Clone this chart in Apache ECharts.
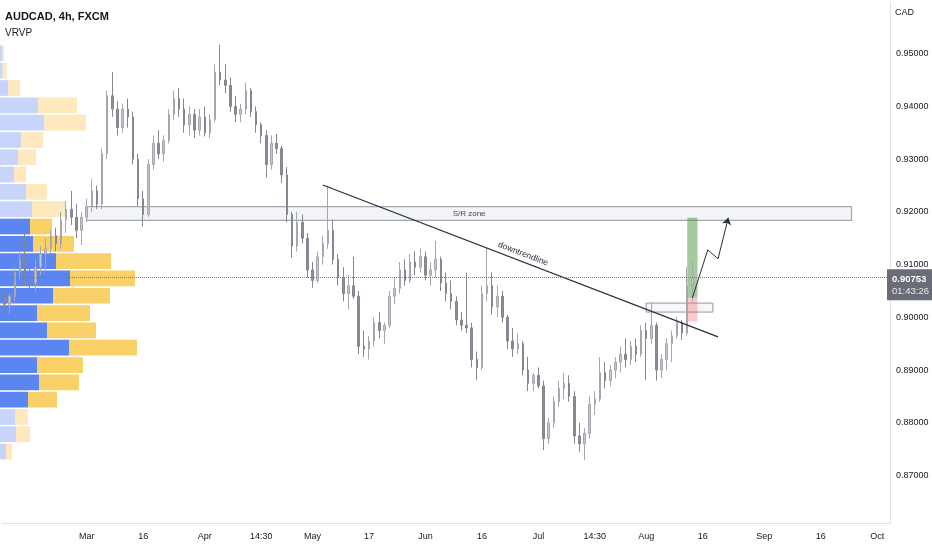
<!DOCTYPE html>
<html lang="en">
<head>
    <meta charset="UTF-8">
    <title>AUDCAD, 4h, FXCM</title>
    <script src="https://cdn.jsdelivr.net/npm/echarts@6/dist/echarts.min.js"></script>
    <style>
        html, body { margin: 0; padding: 0; background: #fff; }
        #chart { width: 932px; height: 550px; }
    </style>
</head>
<body>
    <div id="chart"></div>

    <script>
        // trading days (weekdays) from 7 Feb 2022, the right part of the axis is empty future
        const firstDay = Date.UTC(2022, 1, 7);
        const dayCount = 173;
        const dates = [];
        for (let t = firstDay; dates.length < dayCount; t += 86400000) {
            const d = new Date(t);
            if (d.getUTCDay() % 6 !== 0) dates.push(d.toISOString().slice(0, 10));
        }

        // bottom axis labels
        const tickDates  = ['2022-03-01', '2022-03-16', '2022-04-01', '2022-04-18', '2022-05-02', '2022-05-17', '2022-06-01', '2022-06-16',
                            '2022-07-01', '2022-07-18', '2022-08-01', '2022-08-16', '2022-09-01', '2022-09-16', '2022-10-03'];
        const tickLabels = ['Mar', '16', 'Apr', '14:30', 'May', '17', 'Jun', '16',
                            'Jul', '14:30', 'Aug', '16', 'Sep', '16', 'Oct'];

        // daily candles: [open, high, low, close]
        const ohlc = [
            [0.9030, 0.9050, 0.9010, 0.9025], [0.9025, 0.9045, 0.9005, 0.9040], [0.9040, 0.9095, 0.9030, 0.9085], [0.9085, 0.9125, 0.9070, 0.9110],
            [0.9110, 0.9160, 0.9060, 0.9070], [0.9070, 0.9100, 0.9055, 0.9065], [0.9065, 0.9110, 0.9050, 0.9095], [0.9095, 0.9135, 0.9080, 0.9120],
            [0.9120, 0.9150, 0.9090, 0.9130], [0.9130, 0.9165, 0.9120, 0.9155], [0.9155, 0.9170, 0.9125, 0.9140], [0.9140, 0.9200, 0.9130, 0.9185],
            [0.9185, 0.9220, 0.9160, 0.9205], [0.9205, 0.9240, 0.9175, 0.9190], [0.9190, 0.9215, 0.9150, 0.9165], [0.9165, 0.9200, 0.9137, 0.9190],
            [0.9190, 0.9225, 0.9180, 0.9210], [0.9210, 0.9262, 0.9200, 0.9240], [0.9240, 0.9250, 0.9205, 0.9215], [0.9215, 0.9320, 0.9205, 0.9310],
            [0.9310, 0.9430, 0.9300, 0.9420], [0.9420, 0.9465, 0.9380, 0.9395], [0.9395, 0.9410, 0.9345, 0.9360], [0.9360, 0.9405, 0.9350, 0.9395],
            [0.9395, 0.9415, 0.9360, 0.9380], [0.9380, 0.9390, 0.9290, 0.9300], [0.9300, 0.9310, 0.9210, 0.9225], [0.9225, 0.9240, 0.9172, 0.9195],
            [0.9195, 0.9300, 0.9190, 0.9290], [0.9290, 0.9345, 0.9280, 0.9330], [0.9330, 0.9355, 0.9300, 0.9310], [0.9310, 0.9345, 0.9295, 0.9335],
            [0.9335, 0.9395, 0.9330, 0.9385], [0.9385, 0.9430, 0.9375, 0.9415], [0.9415, 0.9435, 0.9380, 0.9395], [0.9395, 0.9415, 0.9350, 0.9365],
            [0.9365, 0.9400, 0.9345, 0.9385], [0.9385, 0.9395, 0.9340, 0.9355], [0.9355, 0.9395, 0.9345, 0.9380], [0.9380, 0.9400, 0.9343, 0.9350],
            [0.9350, 0.9385, 0.9340, 0.9375], [0.9375, 0.9480, 0.9370, 0.9465], [0.9465, 0.9517, 0.9440, 0.9450], [0.9450, 0.9480, 0.9425, 0.9440],
            [0.9440, 0.9455, 0.9390, 0.9400], [0.9400, 0.9420, 0.9370, 0.9385], [0.9385, 0.9405, 0.9370, 0.9395], [0.9395, 0.9445, 0.9385, 0.9430],
            [0.9430, 0.9435, 0.9380, 0.9390], [0.9390, 0.9400, 0.9350, 0.9365], [0.9365, 0.9370, 0.9330, 0.9345], [0.9345, 0.9355, 0.9265, 0.9290],
            [0.9290, 0.9345, 0.9280, 0.9330], [0.9330, 0.9348, 0.9310, 0.9320], [0.9320, 0.9325, 0.9255, 0.9270], [0.9270, 0.9285, 0.9180, 0.9195],
            [0.9195, 0.9200, 0.9113, 0.9135], [0.9135, 0.9200, 0.9125, 0.9180], [0.9180, 0.9195, 0.9140, 0.9150], [0.9150, 0.9160, 0.9075, 0.9090],
            [0.9090, 0.9105, 0.9056, 0.9070], [0.9070, 0.9125, 0.9065, 0.9115], [0.9115, 0.9155, 0.9100, 0.9140], [0.9140, 0.9250, 0.9130, 0.9165],
            [0.9165, 0.9185, 0.9100, 0.9110], [0.9110, 0.9120, 0.9060, 0.9075], [0.9075, 0.9095, 0.9030, 0.9045], [0.9045, 0.9080, 0.9015, 0.9060],
            [0.9060, 0.9115, 0.9035, 0.9040], [0.9040, 0.9050, 0.8930, 0.8945], [0.8945, 0.8975, 0.8925, 0.8940], [0.8940, 0.8965, 0.8920, 0.8955],
            [0.8955, 0.9000, 0.8945, 0.8990], [0.8990, 0.9010, 0.8960, 0.8975], [0.8975, 0.8990, 0.8950, 0.8985], [0.8985, 0.9050, 0.8980, 0.9040],
            [0.9040, 0.9075, 0.9025, 0.9055], [0.9055, 0.9105, 0.9045, 0.9090], [0.9090, 0.9110, 0.9060, 0.9070], [0.9070, 0.9120, 0.9065, 0.9105],
            [0.9105, 0.9125, 0.9080, 0.9095], [0.9095, 0.9130, 0.9085, 0.9115], [0.9115, 0.9125, 0.9070, 0.9080], [0.9080, 0.9105, 0.9060, 0.9090],
            [0.9090, 0.9145, 0.9075, 0.9110], [0.9110, 0.9115, 0.9050, 0.9065], [0.9065, 0.9085, 0.9030, 0.9045], [0.9045, 0.9070, 0.9015, 0.9030],
            [0.9030, 0.9040, 0.8985, 0.8995], [0.8995, 0.9010, 0.8975, 0.8985], [0.8985, 0.9085, 0.8970, 0.8980], [0.8980, 0.8990, 0.8905, 0.8920],
            [0.8920, 0.8935, 0.8881, 0.8905], [0.8905, 0.9060, 0.8900, 0.9045], [0.9045, 0.9132, 0.9030, 0.9060], [0.9060, 0.9085, 0.9005, 0.9020],
            [0.9020, 0.9060, 0.9000, 0.9040], [0.9040, 0.9050, 0.8990, 0.9000], [0.9000, 0.9005, 0.8940, 0.8955], [0.8955, 0.8980, 0.8925, 0.8940],
            [0.8940, 0.8970, 0.8930, 0.8950], [0.8950, 0.8955, 0.8890, 0.8900], [0.8900, 0.8925, 0.8860, 0.8875], [0.8875, 0.8895, 0.8860, 0.8890],
            [0.8890, 0.8905, 0.8865, 0.8870], [0.8870, 0.8880, 0.8748, 0.8770], [0.8770, 0.8810, 0.8760, 0.8800], [0.8800, 0.8850, 0.8790, 0.8840],
            [0.8840, 0.8880, 0.8830, 0.8865], [0.8865, 0.8895, 0.8845, 0.8875], [0.8875, 0.8890, 0.8840, 0.8850], [0.8850, 0.8860, 0.8760, 0.8775],
            [0.8775, 0.8800, 0.8745, 0.8760], [0.8760, 0.8790, 0.8729, 0.8780], [0.8780, 0.8850, 0.8770, 0.8835], [0.8835, 0.8860, 0.8815, 0.8845],
            [0.8845, 0.8925, 0.8840, 0.8895], [0.8895, 0.8915, 0.8865, 0.8880], [0.8880, 0.8910, 0.8870, 0.8900], [0.8900, 0.8925, 0.8885, 0.8915],
            [0.8915, 0.8945, 0.8895, 0.8930], [0.8930, 0.8960, 0.8905, 0.8920], [0.8920, 0.8955, 0.8910, 0.8945], [0.8945, 0.8960, 0.8915, 0.8930],
            [0.8930, 0.8985, 0.8925, 0.8975], [0.8975, 0.8990, 0.8881, 0.8960], [0.8960, 0.9029, 0.8950, 0.8985], [0.8985, 0.8990, 0.8880, 0.8900],
            [0.8900, 0.8930, 0.8885, 0.8920], [0.8920, 0.8960, 0.8900, 0.8950], [0.8950, 0.8975, 0.8915, 0.8965], [0.8965, 0.9000, 0.8960, 0.8990],
            [0.8990, 0.8995, 0.8957, 0.8970], [0.8970, 0.9095, 0.8965, 0.9060], [0.9060, 0.9105, 0.9030, 0.9075]
        ];
        const lastPrice = 0.90753;
        const countdown = '01:43:26';

        // visible range volume profile, rows from top (high) to bottom (low)
        const vpUp   = [2.7, 2.7, 8.3, 38, 44, 21, 18, 14, 26, 32, 30, 33, 56, 70, 53, 37, 47, 69, 37, 39, 28, 15, 16, 6];
        const vpDown = [1.3, 4, 11.7, 39, 42, 22, 18, 12, 21, 34, 22, 41, 55, 65, 57, 53, 49, 68, 46, 40, 29, 13, 14, 6];
        const vaFirst = 10, vaLast = 20;

        // drawings
        const srZone    = [['2022-03-01', 0.9210], ['2022-09-26', 0.9184]];
        const trendLine = [['2022-05-04', 0.9251], ['2022-08-19', 0.8963]];
        const smallBox  = [['2022-08-01', 0.9027], ['2022-08-18', 0.9010]];
        const profitBox = [['2022-08-11', 0.9189], ['2022-08-15', 0.9037]];
        const stopBox   = [['2022-08-11', 0.9037], ['2022-08-15', 0.8992]];
        const pathPts   = [['2022-08-12', 0.9037], ['2022-08-17', 0.9128], ['2022-08-19', 0.9111], ['2022-08-23', 0.9189]];

        const font = 'Liberation Sans';
        const chart = echarts.init(document.getElementById('chart'));

        const vpHigh = Math.max(...ohlc.map(r => r[1]));
        const vpLow = Math.min(...ohlc.map(r => r[2]));
        const vpStep = (vpHigh - vpLow) / vpUp.length;
        const vpData = vpUp.map((u, i) => [vpHigh - i * vpStep, vpHigh - (i + 1) * vpStep, u, vpDown[i],
                                           (i >= vaFirst && i <= vaLast) ? 1 : 0]);

        function renderProfile(params, api) {
            const hi = api.value(0), lo = api.value(1), up = api.value(2), dn = api.value(3), va = api.value(4);
            const a = api.coord([0, hi]);
            const b = api.coord([up, lo]);
            const c = api.coord([up + dn, lo]);
            const y = a[1] + 0.8, h = b[1] - a[1] - 1.6;
            return {
                type: 'group',
                children: [
                    { type: 'rect', shape: { x: a[0], y: y, width: b[0] - a[0], height: h },
                      style: { fill: va ? '#5b86f2' : '#c8d4fa' } },
                    { type: 'rect', shape: { x: b[0], y: y, width: c[0] - b[0], height: h },
                      style: { fill: va ? '#f9d168' : '#fde9bd' } }
                ]
            };
        }

        const pathLines = [];
        for (let i = 0; i < pathPts.length - 1; i++) {
            const last = i === pathPts.length - 2;
            pathLines.push([
                { coord: pathPts[i], symbol: 'none', lineStyle: { color: '#2a2e39', width: 1, type: 'solid' }, label: { show: false } },
                { coord: pathPts[i + 1], symbol: last ? 'arrow' : 'none', symbolSize: 7 }
            ]);
        }

        const option = {
            animation: false,
            backgroundColor: '#ffffff',
            title: [
                { text: 'AUDCAD, 4h, FXCM', subtext: 'VRVP', left: 5, top: 11, itemGap: 6, padding: 0,
                  textStyle: { fontFamily: font, fontSize: 11, fontWeight: 'bold', color: '#131722' },
                  subtextStyle: { fontFamily: font, fontSize: 10, color: '#131722' } },
                { text: 'CAD', left: 895, top: 8, padding: 0,
                  textStyle: { fontFamily: font, fontSize: 9, fontWeight: 'normal', color: '#131722' } }
            ],
            grid: { left: 2, right: 42, top: 2, bottom: 27 },
            xAxis: [
                {
                    type: 'category',
                    data: dates,
                    boundaryGap: true,
                    axisLine: { lineStyle: { color: '#e0e3eb' } },
                    axisTick: { show: false },
                    splitLine: { show: false },
                    axisLabel: {
                        interval: (idx, val) => tickDates.includes(val),
                        formatter: val => tickLabels[tickDates.indexOf(val)],
                        margin: 9, fontFamily: font, fontSize: 9, color: '#131722'
                    }
                },
                { type: 'value', position: 'top', min: 2, max: 890, show: false }
            ],
            yAxis: {
                type: 'value',
                position: 'right',
                min: 0.8610,
                max: 0.9598,
                splitNumber: 10,
                axisLine: { show: true, onZero: false, lineStyle: { color: '#e0e3eb' } },
                axisTick: { show: false },
                splitLine: { show: false },
                axisLabel: {
                    showMinLabel: false, showMaxLabel: false,
                    formatter: v => v.toFixed(5),
                    margin: 6, fontFamily: font, fontSize: 9, color: '#131722'
                }
            },
            series: [
                {
                    name: 'VRVP',
                    type: 'custom',
                    xAxisIndex: 1,
                    yAxisIndex: 0,
                    z: 1,
                    clip: false,
                    silent: true,
                    renderItem: renderProfile,
                    data: vpData
                },
                {
                    name: 'AUDCAD',
                    type: 'candlestick',
                    xAxisIndex: 0,
                    yAxisIndex: 0,
                    z: 3,
                    barWidth: 2,
                    data: ohlc.map(r => [r[0], r[3], r[2], r[1]]),
                    itemStyle: {
                        color: '#c3c6cd', color0: '#8a8d96',
                        borderColor: '#a4a7af', borderColor0: '#84878f', borderWidth: 1
                    },
                    markArea: {
                        silent: true,
                        data: [
                            [{ coord: srZone[0], itemStyle: { color: 'rgba(228,231,238,0.45)', borderColor: '#a3a6af', borderWidth: 1.2 },
                               label: { show: true, position: 'inside', formatter: 'S/R zone', fontFamily: font, fontSize: 8, color: '#434651' } },
                             { coord: srZone[1] }],
                            [{ coord: smallBox[0], itemStyle: { color: 'rgba(236,239,245,0.5)', borderColor: '#9598a1', borderWidth: 1 } },
                             { coord: smallBox[1] }],
                            [{ coord: profitBox[0], itemStyle: { color: 'rgba(76,150,60,0.5)' } },
                             { coord: profitBox[1] }],
                            [{ coord: stopBox[0], itemStyle: { color: 'rgba(242,80,90,0.3)' } },
                             { coord: stopBox[1] }]
                        ]
                    },
                    markLine: {
                        silent: true,
                        precision: 5,
                        symbol: ['none', 'none'],
                        data: [
                            [{ coord: trendLine[0], lineStyle: { color: '#2a2e39', width: 1.2, type: 'solid' },
                               label: { show: true, position: 'middle', formatter: 'downtrendline', distance: 3,
                                        fontFamily: font, fontSize: 8.5, color: '#2a2e39' } },
                             { coord: trendLine[1] }],
                            ...pathLines,
                            {
                                yAxis: lastPrice,
                                lineStyle: { color: '#787b86', width: 1, type: 'dotted' },
                                label: {
                                    show: true, position: 'end', distance: -3, offset: [0, 7],
                                    formatter: '{a|' + lastPrice.toFixed(5) + '}\n{b|' + countdown + '}',
                                    backgroundColor: '#6a6d78', padding: [4, 6, 3, 5],
                                    rich: {
                                        a: { fontFamily: font, fontSize: 9.5, fontWeight: 'bold', color: '#ffffff', lineHeight: 12 },
                                        b: { fontFamily: font, fontSize: 9.5, color: '#e8e9ec', lineHeight: 12 }
                                    }
                                }
                            }
                        ]
                    }
                }
            ]
        };

        chart.setOption(option);
    </script>
</body>
</html>
